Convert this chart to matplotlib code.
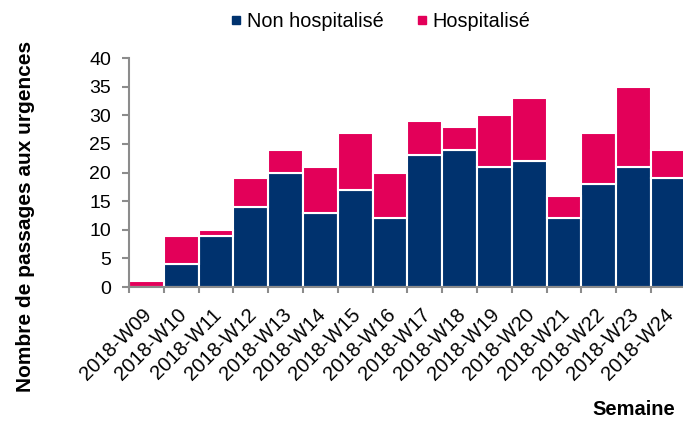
import matplotlib
matplotlib.use("Agg")
import numpy as np
import matplotlib.pyplot as plt
import matplotlib.transforms as mtransforms
from matplotlib.lines import Line2D

plt.rcParams["font.family"] = ["Liberation Sans", "DejaVu Sans"]

WEEKS = ["2018-W09", "2018-W10", "2018-W11", "2018-W12", "2018-W13", "2018-W14",
         "2018-W15", "2018-W16", "2018-W17", "2018-W18", "2018-W19", "2018-W20",
         "2018-W21", "2018-W22", "2018-W23", "2018-W24"]
NON_HOSP = [0, 4, 9, 14, 20, 13, 17, 12, 23, 24, 21, 22, 12, 18, 21, 19]
HOSP = [1, 5, 1, 5, 4, 8, 10, 8, 6, 4, 9, 11, 4, 9, 14, 5]

NAVY = "#00326e"
PINK = "#e30059"
GREY = "#8c8c8c"

fig = plt.figure(figsize=(6.83, 4.21), dpi=100)
ax = fig.add_axes([0.189, 0.318, 0.815, 0.544])

x = np.arange(len(WEEKS))
ax.bar(x, NON_HOSP, width=1.0, color=NAVY, edgecolor="white", linewidth=1.5, zorder=2)
ax.bar(x, HOSP, width=1.0, bottom=NON_HOSP, color=PINK, edgecolor="white",
       linewidth=1.5, zorder=2)

ax.set_xlim(-0.5, len(WEEKS) - 0.5)
ax.set_ylim(0, 40)
ax.set_yticks(np.arange(0, 41, 5))
ax.set_xticks(x)
ax.set_xticklabels(WEEKS, rotation=45, ha="right", rotation_mode="anchor")
ax.set_xticks(np.arange(-0.5, len(WEEKS), 1.0), minor=True)
ax.tick_params(axis="x", which="major", length=0, labelsize=14.5, pad=13)
ax.tick_params(axis="x", which="minor", length=4, width=1.5, color=GREY)
ax.tick_params(axis="y", length=5, width=1.5, color=GREY, labelsize=14, pad=8)

# nudge the rotated week labels a little to the left
shift = mtransforms.ScaledTranslation(-3 / 72, 0, fig.dpi_scale_trans)
for lab in ax.get_xticklabels():
    lab.set_transform(lab.get_transform() + shift)

for side in ("top", "right"):
    ax.spines[side].set_visible(False)
for side in ("left", "bottom"):
    ax.spines[side].set_color(GREY)
    ax.spines[side].set_linewidth(1.5)

fig.text(0.037, 0.485, "Nombre de passages aux urgences", rotation=90,
         ha="center", va="center", fontsize=15, fontweight="bold")
fig.text(0.988, 0.004, "Semaine", ha="right", va="bottom", fontsize=14.5,
         fontweight="bold")

handles = [
    Line2D([0], [0], marker="s", ls="none", color=NAVY, markersize=6,
           label="Non hospitalisé"),
    Line2D([0], [0], marker="s", ls="none", color=PINK, markersize=6,
           label="Hospitalisé"),
]
fig.legend(handles=handles, loc="center", bbox_to_anchor=(0.557, 0.95), ncol=2,
           frameon=False, fontsize=14.3, handlelength=0.6, handletextpad=0.25,
           columnspacing=1.6)

fig.savefig("out.png", dpi=100)
